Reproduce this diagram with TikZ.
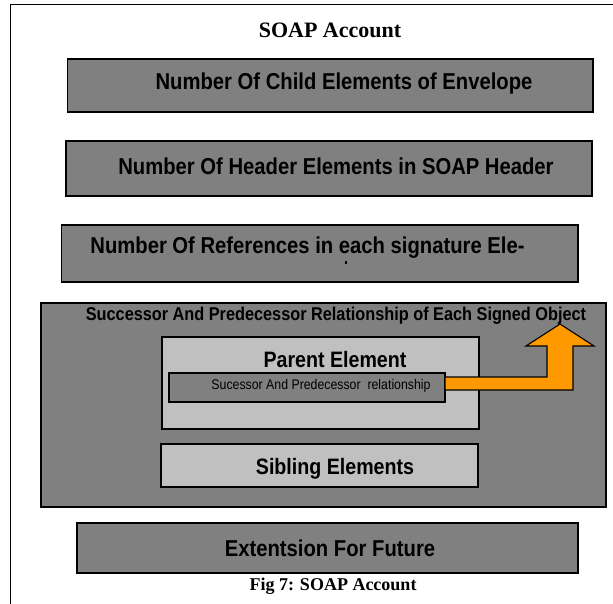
\documentclass[tikz,border=0pt]{standalone}
\usepackage{fontspec}
\setmainfont{Liberation Sans}
\newfontfamily\serifbf{Liberation Serif}
\definecolor{boxgray}{HTML}{808080}
\definecolor{lightgray2}{HTML}{C0C0C0}
\definecolor{arroworange}{HTML}{FF9900}
\newcommand{\cnd}[1]{\scalebox{0.88}[1]{#1}}
\begin{document}
\begin{tikzpicture}[x=1pt,y=-1pt,
  darkbox/.style={draw=black,line width=1.4pt,fill=boxgray},
  lightbox/.style={draw=black,line width=1.2pt,fill=lightgray2},
  lbl/.style={font=\bfseries\fontsize{23}{25}\selectfont,inner sep=0pt,anchor=base},
  ttl/.style={font=\serifbf\bfseries\fontsize{22}{24}\selectfont,inner sep=0pt,anchor=base}]
\useasboundingbox (0,0) rectangle (613,604);
\fill[white] (0,0) rectangle (613,604);
% outer frame (only top and left visible)
\draw[line width=1pt] (613,4.7) -- (10,4.7) -- (10,604);
\node[ttl] (title) at (330,38) {SOAP Account};
% box 1
\draw[darkbox] (67.7,59) rectangle (593,112);
\node[lbl] (b1) at (344,90) {\cnd{Number Of Child Elements of Envelope}};
% box 2
\draw[darkbox] (66,141) rectangle (592,196);
\node[lbl] (b2) at (336,175) {\cnd{Number Of Header Elements in SOAP Header}};
% box 3
\draw[darkbox] (61.7,225) rectangle (578,282);
\node[lbl] (b3) at (307.5,253) {\cnd{Number Of References in each signature Ele-}};
\fill (345,261) rectangle (347,264);
% big box
\draw[darkbox] (41,303) rectangle (606,507);
\node[lbl,font=\bfseries\fontsize{18.5}{20}\selectfont] (big) at (336,320) {\cnd{Successor And Predecessor Relationship of Each Signed Object}};
% parent
\draw[lightbox] (162,337) rectangle (479,429);
\node[lbl,font=\bfseries\fontsize{22.3}{24}\selectfont] (par) at (335,367) {\cnd{Parent Element}};
% inner
\draw[darkbox,line width=1.1pt] (169,373) rectangle (445,402);
\node[lbl,font=\fontsize{14}{16}\selectfont] (rel) at (321,389) {\cnd{Sucessor And Predecessor\ \ relationship}};
% orange arrow
\draw[line width=1.1pt,fill=arroworange,line join=miter]
  (445,377) -- (547,377) -- (547,346) -- (526,346) -- (560,324) -- (594,346) -- (573,346) -- (573,390) -- (445,390) -- cycle;
% sibling
\draw[lightbox] (161,444) rectangle (478,487);
\node[lbl,font=\bfseries\fontsize{22.3}{24}\selectfont] (sib) at (335,474) {\cnd{Sibling Elements}};
% extension
\draw[darkbox] (77,523) rectangle (578,573);
\node[lbl] (ext) at (330,556) {\cnd{Extentsion For Future}};
\node[ttl,font=\serifbf\bfseries\fontsize{18}{20}\selectfont] (cap) at (333,590) {Fig 7: SOAP Account};
\end{tikzpicture}
\end{document}
